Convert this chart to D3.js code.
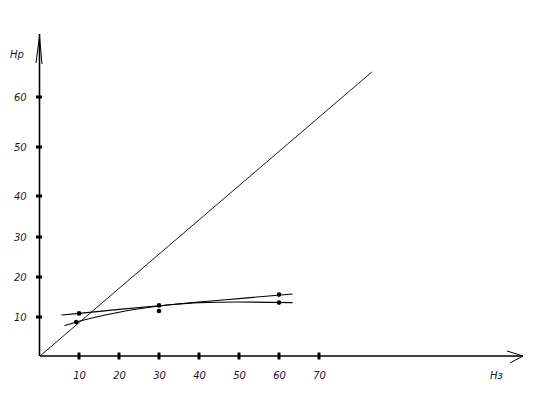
<!DOCTYPE html>
<html>
<head>
<meta charset="utf-8">
<script src="https://cdn.jsdelivr.net/npm/d3@7"></script>
<style>
body { margin: 0; background: #fff; }
.lbl { font-family: "DejaVu Sans", Verdana, sans-serif; font-style: italic; font-size: 10px; fill: #1a1a2e; }
</style>
</head>
<body>
<script>
// axis ticks (hand drawn, so y spacing is uneven)
var xTicks = [10, 20, 30, 40, 50, 60, 70];
var yTicks = [10, 20, 30, 40, 50, 60];
var xName = "Нз";
var yName = "Нр";

// straight line from the origin
var diagX = [0, 83.2];
var diagY = [0, 65];

// first fitted curve (levels off)
var curveAX = [5.5, 10, 20, 30, 40, 50, 63.4];
var curveAY = [10.5, 10.9, 11.9, 12.8, 13.6, 13.75, 13.6];

// second fitted curve (keeps rising)
var curveBX = [6.3, 9.3, 20, 30, 40, 50, 63.4];
var curveBY = [7.8, 8.7, 11.2, 12.75, 13.75, 14.6, 15.75];

// measured points
var pointX = [10, 9.3, 30, 30, 60, 60];
var pointY = [10.9, 8.7, 12.9, 11.5, 15.6, 13.6];

var W = 538, H = 402;
var svg = d3.select("body").append("svg")
	.attr("width", W).attr("height", H);

// the paper drawing is not evenly spaced on y, so use a polylinear scale
var x = d3.scaleLinear().domain([0, 10, 70]).range([40, 79, 319]);
var y = d3.scaleLinear()
	.domain([0, 10, 20, 30, 40, 50, 60])
	.range([356, 317, 277, 237, 196, 147, 97]);

var xEnd = 121, yEnd = 72.6;

// axes
svg.append("line")
	.attr("x1", x(0)).attr("y1", y(0)).attr("x2", x(xEnd)).attr("y2", y(0))
	.attr("stroke", "#000").attr("stroke-width", 1.5);
svg.append("line")
	.attr("x1", x(0) - 0.5).attr("y1", y(0)).attr("x2", x(0) - 0.5).attr("y2", y(yEnd))
	.attr("stroke", "#000").attr("stroke-width", 1.6);

// arrow heads
var ax = x(xEnd), ay = y(0);
svg.append("path")
	.attr("d", "M" + (ax - 16) + "," + (ay - 5) + "L" + ax + "," + ay + "L" + (ax - 13) + "," + (ay + 7))
	.attr("fill", "none").attr("stroke", "#000").attr("stroke-width", 1);
var bx = x(0) - 0.5, by = y(yEnd);
svg.append("path")
	.attr("d", "M" + (bx - 3.5) + "," + (by + 29) + "L" + bx + "," + (by + 2) + "L" + (bx + 2.5) + "," + (by + 30))
	.attr("fill", "none").attr("stroke", "#000").attr("stroke-width", 1);

// tick marks
svg.selectAll(".xt").data(xTicks).enter().append("rect")
	.attr("class", "xt")
	.attr("x", function(d) { return x(d) - 1.5; })
	.attr("y", y(0) - 3.5)
	.attr("width", 3).attr("height", 7)
	.attr("fill", "#000");
svg.selectAll(".yt").data(yTicks).enter().append("rect")
	.attr("class", "yt")
	.attr("x", x(0) - 4)
	.attr("y", function(d) { return y(d) - 1.5; })
	.attr("width", 6).attr("height", 3)
	.attr("fill", "#000");

// tick labels
svg.selectAll(".xl").data(xTicks).enter().append("text")
	.attr("class", "lbl xl")
	.attr("x", function(d) { return x(d) + 0.5; })
	.attr("y", 379)
	.attr("text-anchor", "middle")
	.text(function(d) { return d; });
svg.selectAll(".yl").data(yTicks).enter().append("text")
	.attr("class", "lbl yl")
	.attr("x", 14)
	.attr("y", function(d) { return y(d) + 3.5; })
	.text(function(d) { return d; });

svg.append("text").attr("class", "lbl")
	.attr("x", 490).attr("y", 379).text(xName);
svg.append("text").attr("class", "lbl")
	.attr("x", 10).attr("y", 58).text(yName);

// lines
var line = d3.line()
	.x(function(d) { return x(d[0]); })
	.y(function(d) { return y(d[1]); });

svg.append("path")
	.attr("d", line(d3.zip(diagX, diagY)))
	.attr("fill", "none").attr("stroke", "#000").attr("stroke-width", 0.9);

var smooth = d3.line()
	.curve(d3.curveMonotoneX)
	.x(function(d) { return x(d[0]); })
	.y(function(d) { return y(d[1]); });

svg.append("path")
	.attr("d", smooth(d3.zip(curveAX, curveAY)))
	.attr("fill", "none").attr("stroke", "#000").attr("stroke-width", 1.1);
svg.append("path")
	.attr("d", smooth(d3.zip(curveBX, curveBY)))
	.attr("fill", "none").attr("stroke", "#000").attr("stroke-width", 1.1);

// points
svg.selectAll(".pt").data(d3.zip(pointX, pointY)).enter().append("circle")
	.attr("class", "pt")
	.attr("cx", function(d) { return x(d[0]); })
	.attr("cy", function(d) { return y(d[1]); })
	.attr("r", 2.3)
	.attr("fill", "#000");
</script>
</body>
</html>
